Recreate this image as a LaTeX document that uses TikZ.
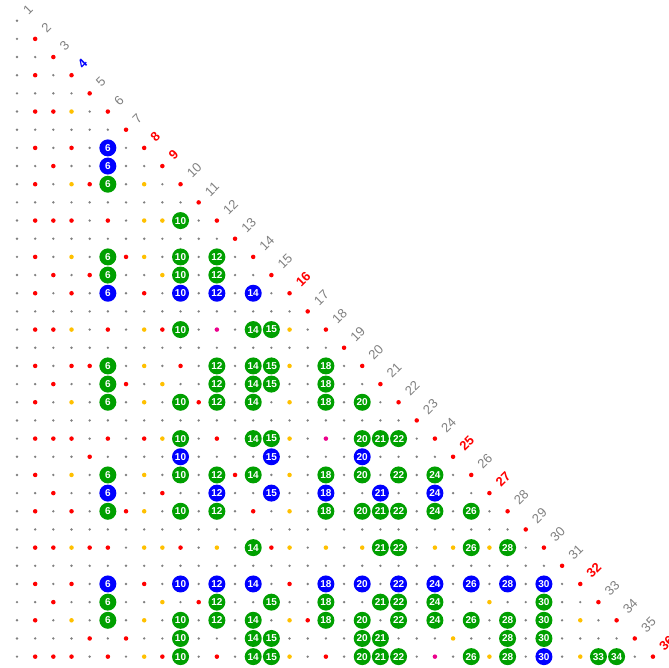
\documentclass[tikz,border=0pt]{standalone}
\usepackage{fontspec}
\setmainfont{Liberation Sans}
\definecolor{DotGreen}{RGB}{0,160,0}
\definecolor{DotAmber}{RGB}{255,192,0}
\definecolor{LabelGray}{RGB}{128,128,128}

\begin{document}
\begin{tikzpicture}[x=13.63pt, y=13.63pt,
  pt e/.style={circle, fill=gray, inner sep=0, minimum size=2pt},
  pt r/.style={circle, fill=red, inner sep=0, minimum size=3.4pt},
  pt o/.style={pt r, fill=DotAmber},
  pt m/.style={pt r, fill=magenta},
  pt g/.style={circle, fill=DotGreen, inner sep=0, minimum size=12.75pt, text=white,
    font=\fontsize{7.5}{7.5}\selectfont\bfseries, execute at begin node=\k},
  pt b/.style={pt g, fill=blue},
  lab/.style={rotate=45, anchor=west, inner sep=0, text=LabelGray, font=\fontsize{9.8}{9.8}\selectfont},
  hot/.style={text=red, font=\fontsize{9.8}{9.8}\selectfont\bfseries},
  lab 4/.style={text=blue, font=\fontsize{9.8}{9.8}\selectfont\bfseries},
  lab 8/.style=hot, lab 9/.style=hot, lab 16/.style=hot, lab 25/.style=hot,
  lab 27/.style=hot, lab 32/.style=hot, lab 36/.style=hot]
\useasboundingbox (0.064,0.139) rectangle (36.884,-36.624);

% cells that are not plain grey / divisor dots: row/column/kind
\foreach \n/\k/\s in {6/4/o, 8/6/b, 9/6/b,
  10/4/o, 10/6/g, 10/8/o,
  12/8/o, 12/9/o, 12/10/g,
  14/4/o, 14/6/g, 14/8/o, 14/10/g, 14/12/g,
  15/6/g, 15/9/o, 15/10/g, 15/12/g,
  16/6/b, 16/10/b, 16/12/b, 16/14/b,
  18/4/o, 18/8/o, 18/10/g, 18/12/m, 18/14/g, 18/15/g, 18/16/o,
  20/6/g, 20/8/o, 20/12/g, 20/14/g, 20/15/g, 20/16/o, 20/18/g,
  21/6/g, 21/9/o, 21/12/g, 21/14/g, 21/15/g, 21/18/g,
  22/4/o, 22/6/g, 22/8/o, 22/10/g, 22/12/g, 22/14/g, 22/16/o, 22/18/g, 22/20/g,
  24/9/o, 24/10/g, 24/14/g, 24/15/g, 24/16/o, 24/18/m, 24/20/g, 24/21/g, 24/22/g,
  25/10/b, 25/15/b, 25/20/b,
  26/4/o, 26/6/g, 26/8/o, 26/10/g, 26/12/g, 26/14/g, 26/16/o, 26/18/g, 26/20/g, 26/22/g, 26/24/g,
  27/6/b, 27/12/b, 27/15/b, 27/18/b, 27/21/b, 27/24/b,
  28/6/g, 28/8/o, 28/10/g, 28/12/g, 28/16/o, 28/18/g, 28/20/g, 28/21/g, 28/22/g, 28/24/g, 28/26/g,
  30/4/o, 30/8/o, 30/9/o, 30/12/o, 30/14/g, 30/16/o, 30/18/o, 30/20/o, 30/21/g, 30/22/g,
  30/24/o, 30/25/o, 30/26/g, 30/27/o, 30/28/g,
  32/6/b, 32/10/b, 32/12/b, 32/14/b, 32/18/b, 32/20/b, 32/22/b, 32/24/b, 32/26/b, 32/28/b, 32/30/b,
  33/6/g, 33/9/o, 33/12/g, 33/15/g, 33/18/g, 33/21/g, 33/22/g, 33/24/g, 33/27/o, 33/30/g,
  34/4/o, 34/6/g, 34/8/o, 34/10/g, 34/12/g, 34/14/g, 34/16/o, 34/18/g, 34/20/g, 34/22/g,
  34/24/g, 34/26/g, 34/28/g, 34/30/g, 34/32/o,
  35/10/g, 35/14/g, 35/15/g, 35/20/g, 35/21/g, 35/25/o, 35/28/g, 35/30/g,
  36/8/o, 36/10/g, 36/14/g, 36/15/g, 36/16/o, 36/20/g, 36/21/g, 36/22/g, 36/24/m,
  36/26/g, 36/27/o, 36/28/g, 36/30/b, 36/32/o, 36/33/g, 36/34/g}
  {\expandafter\xdef\csname cell-\n-\k\endcsname{\s}}

% the triangle
\foreach \n in {1,...,36}
  \foreach \k in {1,...,\n}{
    \pgfmathtruncatemacro\rem{mod(\n,\k)}
    \def\s{e}
    \ifnum\rem=0 \ifnum\k>1 \def\s{r}\fi\fi
    \ifcsname cell-\n-\k\endcsname \edef\s{\csname cell-\n-\k\endcsname}\fi
    \node[pt \s] (p-\n-\k) at (\k,-\n) {};
  }

% row numbers along the diagonal
\foreach \n in {1,...,36}
  \node[lab, lab \n/.try] (l-\n) at ([shift={(0.46,0.46)}]p-\n-\n.center) {\n};
\end{tikzpicture}
\end{document}
